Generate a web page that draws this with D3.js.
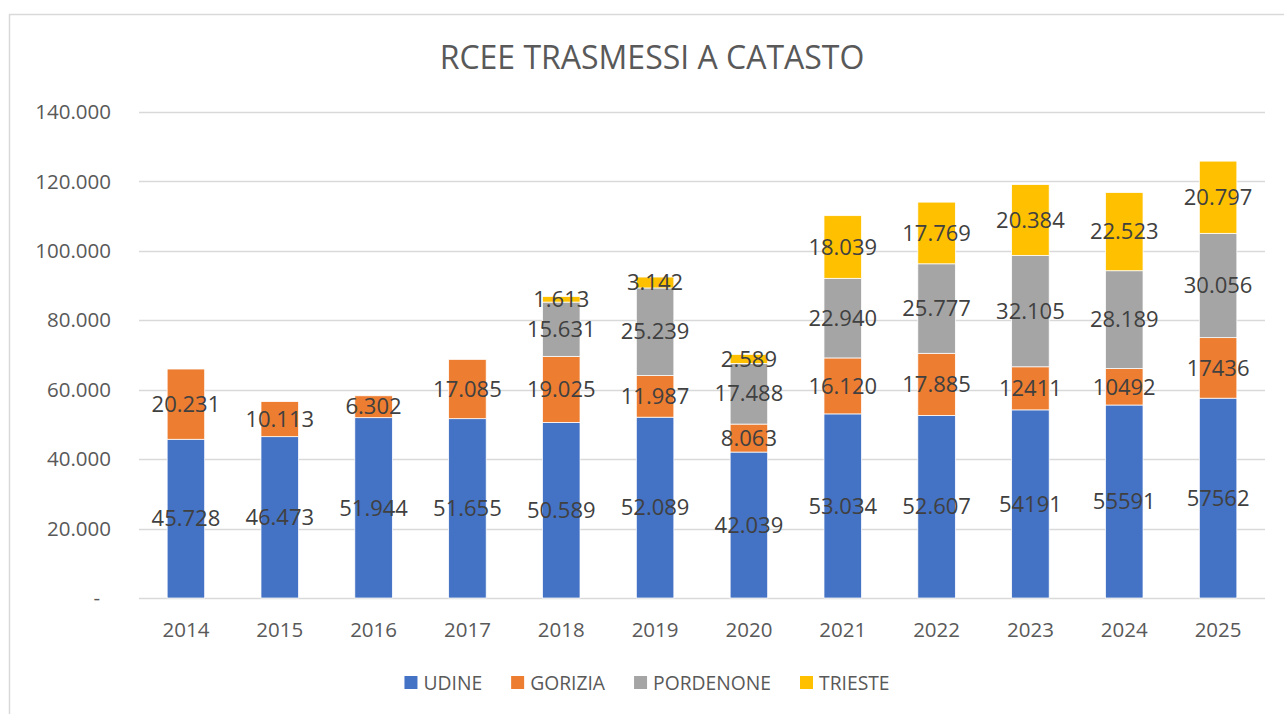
<!DOCTYPE html>
<html>
<head>
<meta charset="utf-8">
<script src="https://cdn.jsdelivr.net/npm/d3@7"></script>
<style>
  body { margin: 0; background: #fff; }
  text { font-family: "Open Sans", "Liberation Sans", sans-serif; }
</style>
</head>
<body>
<div class="main"></div>
<script>
const years = ["2014", "2015", "2016", "2017", "2018", "2019", "2020", "2021", "2022", "2023", "2024", "2025"];
const seriesNames = ["UDINE", "GORIZIA", "PORDENONE", "TRIESTE"];
const udine = [45728, 46473, 51944, 51655, 50589, 52089, 42039, 53034, 52607, 54191, 55591, 57562];
const gorizia = [20231, 10113, 6302, 17085, 19025, 11987, 8063, 16120, 17885, 12411, 10492, 17436];
const pordenone = [0, 0, 0, 0, 15631, 25239, 17488, 22940, 25777, 32105, 28189, 30056];
const trieste = [0, 0, 0, 0, 1613, 3142, 2589, 18039, 17769, 20384, 22523, 20797];
const yTicks = [0, 20000, 40000, 60000, 80000, 100000, 120000, 140000];
// labels in the source have no thousands separator for these cells
const plainYears = ["2023", "2024", "2025"];
const plainSeries = ["UDINE", "GORIZIA"];

const colors = ["#4472c4", "#ed7d31", "#a5a5a5", "#ffc000"];
const values = [udine, gorizia, pordenone, trieste];

const width = 1284, height = 714;
const margin = { left: 139, right: 1265, top: 112, bottom: 598 };

const svg = d3.select(".main").append("svg")
    .attr("width", width)
    .attr("height", height);

// chart frame
svg.append("rect")
    .attr("x", 9.5).attr("y", 14.5)
    .attr("width", 1300).attr("height", 800)
    .attr("fill", "#fff")
    .attr("stroke", "#d9d9d9")
    .attr("stroke-width", 1.5);

const table = years.map((y, i) => {
    const row = { year: y };
    seriesNames.forEach((s, k) => row[s] = values[k][i]);
    return row;
});

const x = d3.scaleBand()
    .domain(years)
    .range([margin.left, margin.right])
    .paddingInner(0.6)
    .paddingOuter(0.3);

const y = d3.scaleLinear()
    .domain([0, 140000])
    .range([margin.bottom, margin.top]);

const color = d3.scaleOrdinal().domain(seriesNames).range(colors);

const itFormat = d3.formatLocale({ decimal: ",", thousands: ".", grouping: [3], currency: ["€", ""] }).format(",d");

// gridlines
svg.append("g")
    .selectAll("line")
    .data(yTicks)
    .enter()
    .append("line")
    .attr("x1", margin.left).attr("x2", margin.right)
    .attr("y1", d => Math.round(y(d)) + 0.5)
    .attr("y2", d => Math.round(y(d)) + 0.5)
    .attr("stroke", "#d9d9d9")
    .attr("stroke-width", 1.5);

// y tick labels
svg.append("g")
    .selectAll("text")
    .data(yTicks)
    .enter()
    .append("text")
    .attr("x", d => d === 0 ? 100 : 111)
    .attr("y", d => y(d))
    .attr("dy", "0.35em")
    .attr("text-anchor", "end")
    .attr("fill", "#595959")
    .attr("font-size", 20.5)
    .text(d => d === 0 ? "-" : itFormat(d));

// x labels
svg.append("g")
    .selectAll("text")
    .data(years)
    .enter()
    .append("text")
    .attr("x", d => x(d) + x.bandwidth() / 2)
    .attr("y", 630)
    .attr("dy", "0.35em")
    .attr("text-anchor", "middle")
    .attr("fill", "#595959")
    .attr("font-size", 20.5)
    .text(d => d);

const stack = d3.stack().keys(seriesNames);
const layers = stack(table);

const layer = svg.append("g")
    .selectAll("g")
    .data(layers)
    .enter()
    .append("g")
    .attr("fill", d => color(d.key));

layer.selectAll("rect")
    .data(d => d.filter(p => p[1] - p[0] > 0))
    .enter()
    .append("rect")
    .attr("x", d => x(d.data.year))
    .attr("width", x.bandwidth())
    .attr("y", d => y(d[1]))
    .attr("height", d => y(d[0]) - y(d[1]))
    .attr("stroke", "#fff")
    .attr("stroke-width", 0.75);

// data labels
const labels = svg.append("g");
layers.forEach(l => {
    l.forEach(p => {
        const v = p[1] - p[0];
        if (v <= 0) return;
        const plain = plainYears.includes(p.data.year) && plainSeries.includes(l.key);
        labels.append("text")
            .attr("x", x(p.data.year) + x.bandwidth() / 2)
            .attr("y", (y(p[0]) + y(p[1])) / 2)
            .attr("dy", "0.35em")
            .attr("text-anchor", "middle")
            .attr("fill", "#404040")
            .attr("font-size", 22)
            .text(plain ? String(v) : itFormat(v));
    });
});

// title
svg.append("text")
    .attr("x", 652)
    .attr("y", 58)
    .attr("dy", "0.35em")
    .attr("text-anchor", "middle")
    .attr("fill", "#595959")
    .attr("font-size", 32)
    .text("RCEE TRASMESSI A CATASTO");

// legend
const legend = svg.append("g").attr("transform", "translate(0,683)");
const items = legend.selectAll("g")
    .data(seriesNames)
    .enter()
    .append("g");

items.append("rect")
    .attr("y", -7)
    .attr("width", 13).attr("height", 13)
    .attr("fill", d => color(d));

items.append("text")
    .attr("x", 19)
    .attr("dy", "0.35em")
    .attr("fill", "#595959")
    .attr("font-size", 19.3)
    .text(d => d);

let offset = 0;
const widths = [];
items.each(function () {
    widths.push(19 + this.querySelector("text").getComputedTextLength());
});
const gap = 29;
const total = d3.sum(widths) + gap * (widths.length - 1);
let start = 647 - total / 2;
items.attr("transform", (d, i) => {
    const tx = start + offset;
    offset += widths[i] + gap;
    return "translate(" + tx + ",0)";
});
</script>
</body>
</html>
